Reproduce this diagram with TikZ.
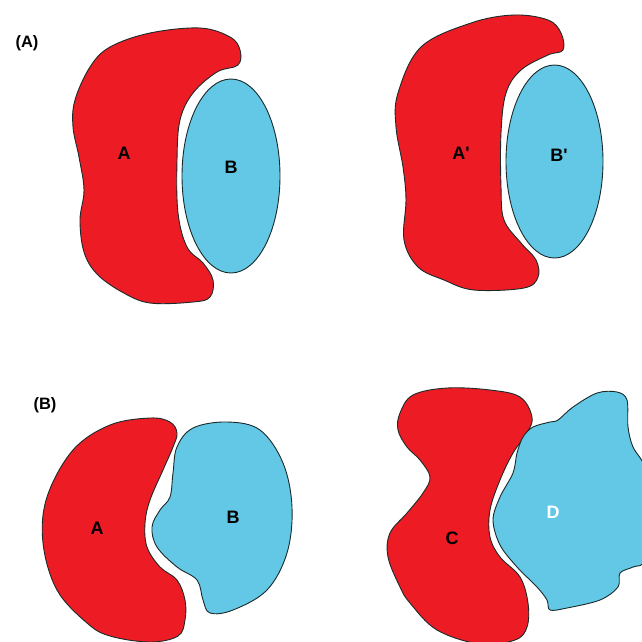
\documentclass[tikz,border=0pt]{standalone}
\usepackage{fontspec}
\setmainfont{Liberation Sans}
\definecolor{molred}{HTML}{ED1C24}
\definecolor{molblue}{HTML}{62C8E6}
\definecolor{edge}{HTML}{1A2A2A}
\begin{document}
\begin{tikzpicture}[x=1pt,y=-1pt,
  redmol/.style={fill=molred,draw=edge,line width=0.9pt},
  bluemol/.style={fill=molblue,draw=edge,line width=0.9pt},
  lbl/.style={font=\fontsize{18}{21}\selectfont\bfseries,text=black,inner sep=0pt},
  panel/.style={font=\fontsize{16.5}{19}\selectfont\bfseries,text=black,inner sep=0pt}]
\useasboundingbox (0,0) rectangle (642,641);
\clip (0,0) rectangle (642,641);
% ---------- (A) left ----------
\draw[redmol] plot[smooth cycle,tension=0.6] coordinates {
 (90,67) (110,47) (150,33) (200,28) (230,37) (240,50) (238,65)
 (217,72) (193,93) (180,120) (177,160) (178,213) (187,247) (203,263)
 (213,280) (210,297) (193,302) (150,303) (122,292) (97,274) (84,252)
 (80,220) (84,190) (79,157) (73,127) (75,100)};
\draw[bluemol] (231,176) ellipse [x radius=49,y radius=97];
\node[panel] (pA) at (27,43) {(A)};
\node[lbl] (lA) at (124,153) {A};
\node[lbl] (lB) at (231,167) {B};
% ---------- (A) right ----------
\draw[redmol] plot[smooth cycle,tension=0.6] coordinates {
 (398,93) (421,47) (471,23) (514,15) (548,20) (561,33) (563,50)
 (548,55) (521,70) (506,93) (501,133) (501,187) (504,220) (521,243)
 (536,260) (538,277) (524,288) (474,290) (444,280) (418,267) (404,240)
 (406,200) (403,167) (396,127)};
\draw[bluemol] (554.5,161.5) ellipse [x radius=48.5,y radius=96.5];
\node[lbl] (lAp) at (461,153) {A\textquotesingle};
\node[lbl] (lBp) at (559,155) {B\textquotesingle};
% ---------- (B) left ----------
\draw[redmol] plot[smooth cycle,tension=0.6] coordinates {
 (73,450) (110,425) (150,418) (170,422) (177,433) (173,447) (163,470)
 (150,500) (145,523) (147,547) (160,567) (177,580) (185,600) (185,620)
 (178,636) (150,642) (110,636) (87,623) (57,590) (43,543) (47,497)};
\draw[bluemol] plot[smooth cycle,tension=0.6] coordinates {
 (177,447) (193,428) (227,422) (260,430) (283,463) (292,507) (287,553)
 (267,590) (233,610) (210,613) (203,600) (197,580) (177,567) (157,547)
 (152,527) (160,510) (170,497) (173,473)};
\node[panel] (pB) at (45,405) {(B)};
\node[lbl] (lA2) at (97,528) {A};
\node[lbl] (lB2) at (233,517) {B};
% ---------- (B) right ----------
\draw[redmol] plot[smooth cycle,tension=0.6] coordinates {
 (400,413) (413,395) (447,388) (490,390) (520,397) (532,417) (527,433)
 (513,453) (500,480) (490,510) (490,537) (500,557) (520,577) (528,603)
 (527,627) (515,640) (480,644) (437,630) (410,603) (400,587) (388,557)
 (390,533) (407,513) (423,493) (430,477) (420,460) (407,447) (398,430)};
\draw[bluemol] plot[smooth cycle,tension=0.55] coordinates {
 (523,437) (533,427) (550,422) (558,420) (573,407) (597,393) (617,392)
 (627,400) (628,427) (633,447) (646,470) (649,515) (645,560) (633,567) (620,573)
 (618,587) (600,600) (567,608) (550,610) (547,600) (537,587) (517,567)
 (500,545) (493,520) (500,497) (513,473) (517,453)};
\node[lbl] (lC) at (452,538) {C};
\node[lbl,text=white] (lD) at (553,512) {D};
\end{tikzpicture}
\end{document}
